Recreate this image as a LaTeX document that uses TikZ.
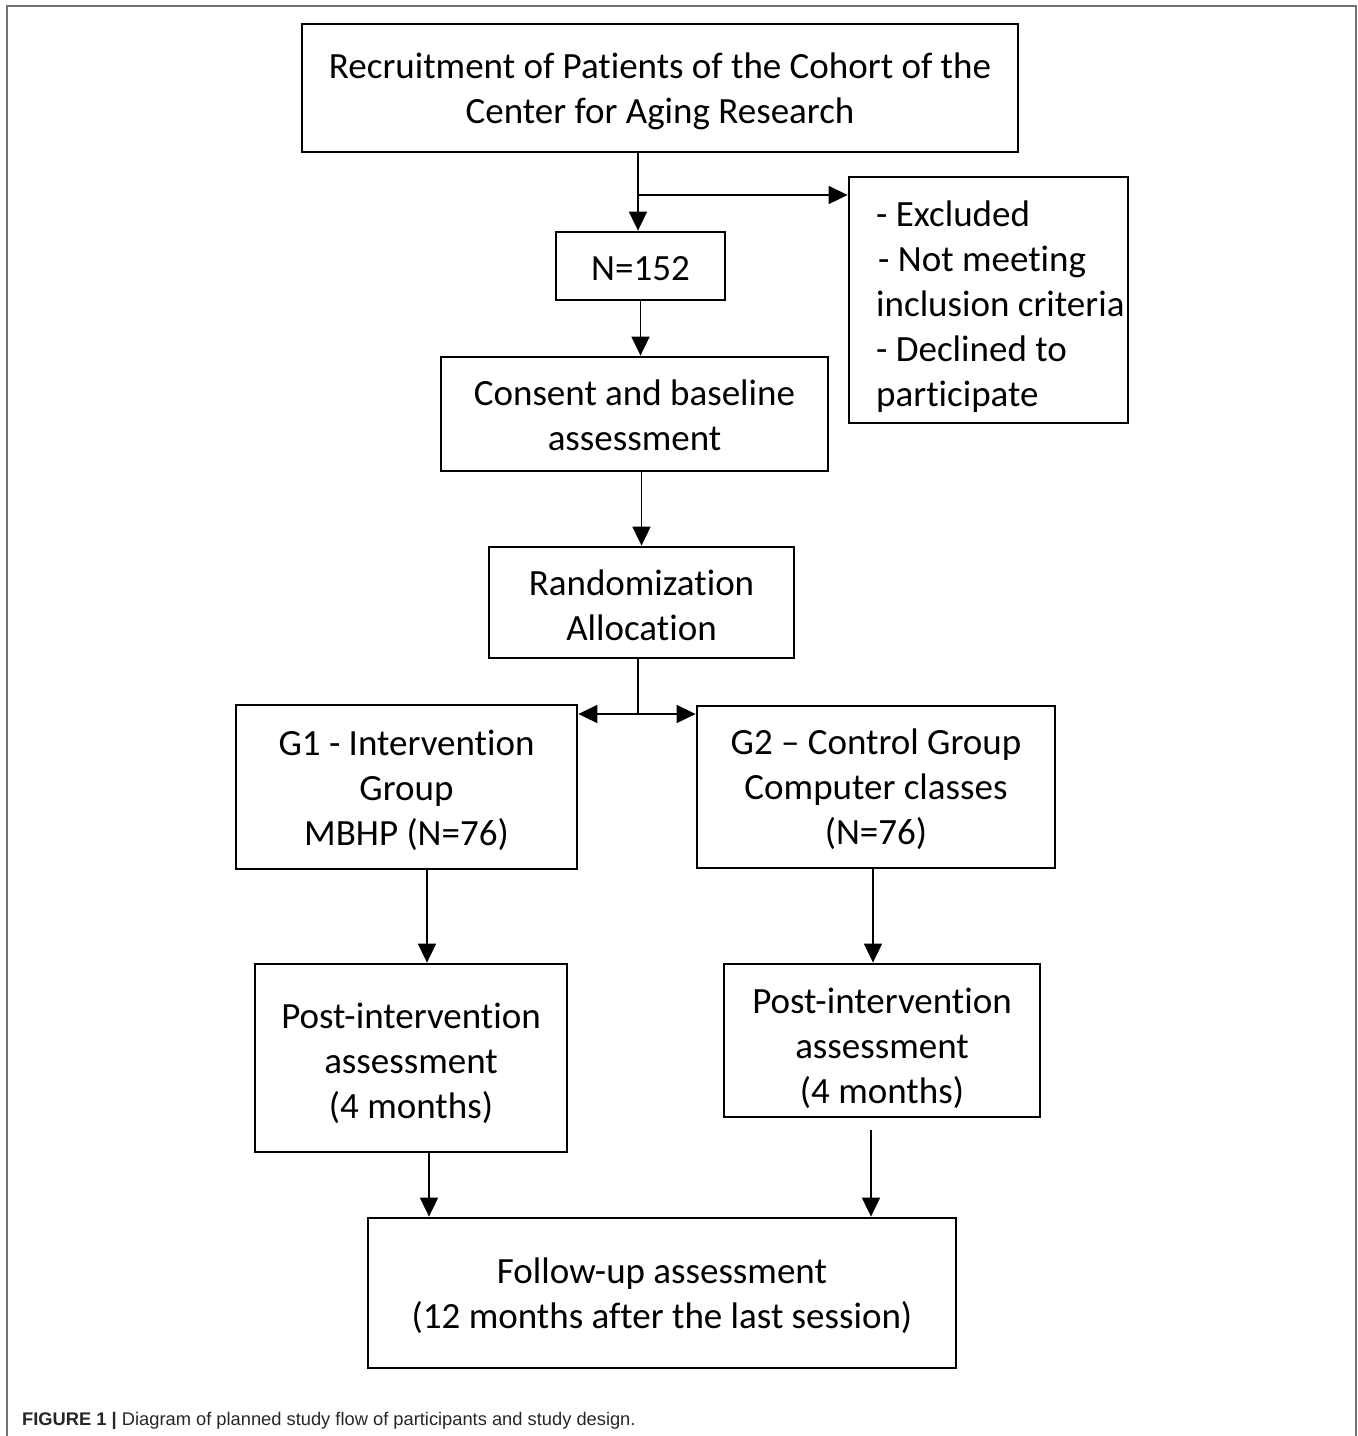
\documentclass[tikz,border=0pt]{standalone}
\usepackage{fontspec}
\setmainfont{Carlito}[Ligatures=NoCommon]
\newfontfamily\capfont{Liberation Sans}
\usetikzlibrary{arrows.meta,calc}
\begin{document}
\begin{tikzpicture}[x=1pt,y=-1pt,
  box/.style={draw, line width=2.8pt, inner sep=0pt},
  lbl/.style={align=center, inner sep=0pt, font=\fontsize{37}{45}\selectfont},
  conn/.style={line width=1.8pt, -{Triangle[length=19pt,width=18pt]}},
  plain/.style={line width=1.8pt},
  frame/.style={draw=black!55, line width=2pt}]
\useasboundingbox (0,0) rectangle (1358,1436);
\draw[frame] (7,1436) -- (7,6) -- (1356,6) -- (1356,1436);

\node[box, minimum width=716pt, minimum height=128pt,
  label={[lbl, name=recruit-t, yshift=-3.5pt]center:{Recruitment of Patients of the Cohort of the\\Center for Aging Research}}]
  (recruit) at (660,88) {};
\node[box, minimum width=169pt, minimum height=68pt,
  label={[lbl, name=n152-t, yshift=-3pt]center:{N=152}}]
  (n152) at (640.5,266) {};
\node[box, minimum width=279pt, minimum height=246pt] (excl) at (988.5,300) {};
\node[anchor=west, align=left, inner sep=0pt, font=\fontsize{37}{45}\selectfont] (excltxt) at (876,307)
  {- Excluded\\\hspace{2pt}- Not meeting\\inclusion criteria\\- Declined to\\participate};
\node[box, minimum width=387pt, minimum height=114pt,
  label={[lbl, name=consent-t, yshift=-1pt]center:{Consent and baseline\\assessment}}]
  (consent) at (634.5,414) {};
\node[box, minimum width=305pt, minimum height=111pt,
  label={[lbl, name=random-t, yshift=-3pt]center:{Randomization\\Allocation}}]
  (random) at (641.5,602.5) {};
\node[box, minimum width=341pt, minimum height=164pt,
  label={[lbl, name=g1-t, yshift=-3pt]center:{G1 - Intervention\\Group\\MBHP (N=76)}}]
  (g1) at (406.5,787) {};
\node[box, minimum width=358pt, minimum height=162pt,
  label={[lbl, name=g2-t, yshift=-2pt]center:{G2 – Control Group\\Computer classes\\(N=76)}}]
  (g2) at (876,787) {};
\node[box, minimum width=312pt, minimum height=188pt,
  label={[lbl, name=post1-t, yshift=-5pt]center:{Post-intervention\\assessment\\(4 months)}}]
  (post1) at (411,1058) {};
\node[box, minimum width=316pt, minimum height=153pt,
  label={[lbl, name=post2-t, yshift=-8pt]center:{Post-intervention\\assessment\\(4 months)}}]
  (post2) at (882,1040.5) {};
\node[box, minimum width=588pt, minimum height=150pt,
  label={[lbl, name=follow-t, yshift=-3pt]center:{Follow-up assessment\\(12 months after the last session)}}]
  (follow) at (662,1293) {};

\coordinate (s1) at (638,195);
\coordinate (s2) at (638,714);
\coordinate (a1) at (427,0);
\coordinate (a2) at (873,0);
\coordinate (a3) at (429,0);
\coordinate (a4) at (871,1130);

\draw[conn] (recruit.south -| s1) -- (n152.north -| s1);
\draw[conn] (s1) -- (s1 -| excl.west);
\draw[conn] (n152.south) -- (consent.north -| n152.south);
\draw[conn] (consent.south -| random.north) -- (random.north);
\draw[plain] (random.south -| s2) -- (s2);
\draw[conn] (s2) -- (s2 -| g1.east);
\draw[conn] (s2) -- (s2 -| g2.west);
\draw[conn] (g1.south -| a1) -- (post1.north -| a1);
\draw[conn] (g2.south -| a2) -- (post2.north -| a2);
\draw[conn] (post1.south -| a3) -- (follow.north -| a3);
\draw[conn] (a4) -- (follow.north -| a4);

\node[anchor=base west, inner sep=0pt, text=black!85, font=\capfont\fontsize{18.3}{22}\selectfont] (cap) at (22,1425)
  {\textbf{FIGURE 1 |} Diagram of planned study flow of participants and study design.};
\end{tikzpicture}
\end{document}
